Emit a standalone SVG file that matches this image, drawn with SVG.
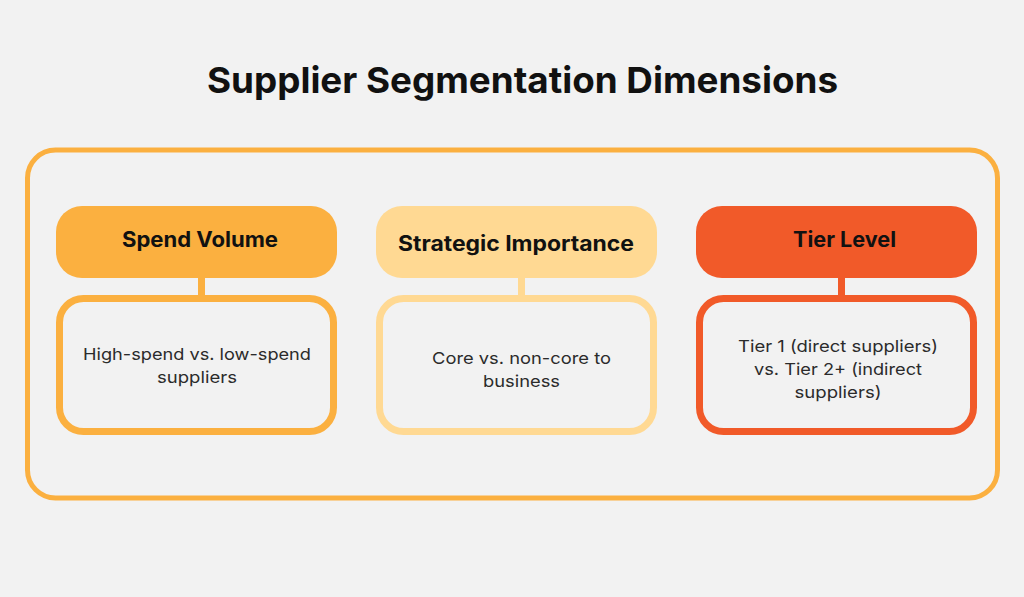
<svg xmlns="http://www.w3.org/2000/svg" width="1024" height="597" viewBox="0 0 1024 597">
<style>
.title{font-family:Inter,"Liberation Sans",sans-serif;font-weight:700;font-size:36px;fill:#111;}
.head{font-family:Inter,"Liberation Sans",sans-serif;font-weight:700;font-size:21px;fill:#111;}
.body{font-family:Inter,"Liberation Sans",sans-serif;font-weight:400;font-size:16.5px;fill:#2b2b2b;}
.box{fill:#f2f2f2;stroke-width:7;}
</style>
<rect x="0" y="0" width="1024" height="597" fill="#f2f2f2"/>
<text class="title" x="522.5" y="93" text-anchor="middle" textLength="631" lengthAdjust="spacingAndGlyphs">Supplier Segmentation Dimensions</text>
<rect id="frame" x="27.5" y="150" width="970" height="348" rx="28" fill="none" stroke="#fbb040" stroke-width="5"/>
<g id="connectors">
<rect x="198" y="276" width="7" height="22" fill="#fbb040"/>
<rect x="518" y="276" width="7" height="22" fill="#ffd993"/>
<rect x="838" y="276" width="7" height="22" fill="#f15a29"/>
</g>
<g id="spend-volume">
<rect x="56" y="206" width="281" height="72" rx="26" fill="#fbb040"/>
<text class="head" x="200" y="247" text-anchor="middle" textLength="156" lengthAdjust="spacingAndGlyphs">Spend Volume</text>
</g>
<g id="spend-volume-desc">
<rect class="box" x="59.5" y="298.5" width="274" height="133" rx="24" stroke="#fbb040"/>
<text class="body" x="197" y="360" text-anchor="middle" textLength="228" lengthAdjust="spacingAndGlyphs">High-spend vs. low-spend</text>
<text class="body" x="197" y="383" text-anchor="middle" textLength="80" lengthAdjust="spacingAndGlyphs">suppliers</text>
</g>
<g id="strategic-importance">
<rect x="376" y="206" width="281" height="72" rx="26" fill="#ffd993"/>
<text class="head" x="516" y="251" text-anchor="middle" textLength="236" lengthAdjust="spacingAndGlyphs">Strategic Importance</text>
</g>
<g id="strategic-importance-desc">
<rect class="box" x="379.5" y="298.5" width="274" height="133" rx="24" stroke="#ffd993"/>
<text class="body" x="521.5" y="364" text-anchor="middle" textLength="179" lengthAdjust="spacingAndGlyphs">Core vs. non-core to</text>
<text class="body" x="521.5" y="387" text-anchor="middle" textLength="77" lengthAdjust="spacingAndGlyphs">business</text>
</g>
<g id="tier-level">
<rect x="696" y="206" width="281" height="72" rx="26" fill="#f15a29"/>
<text class="head" x="844.5" y="247" text-anchor="middle" textLength="103" lengthAdjust="spacingAndGlyphs">Tier Level</text>
</g>
<g id="tier-level-desc">
<rect class="box" x="699.5" y="298.5" width="274" height="133" rx="24" stroke="#f15a29"/>
<text class="body" x="838" y="352" text-anchor="middle" textLength="200" lengthAdjust="spacingAndGlyphs">Tier 1 (direct suppliers)</text>
<text class="body" x="838" y="375" text-anchor="middle" textLength="168" lengthAdjust="spacingAndGlyphs">vs. Tier 2+ (indirect</text>
<text class="body" x="838" y="398" text-anchor="middle" textLength="87" lengthAdjust="spacingAndGlyphs">suppliers)</text>
</g>
</svg>
